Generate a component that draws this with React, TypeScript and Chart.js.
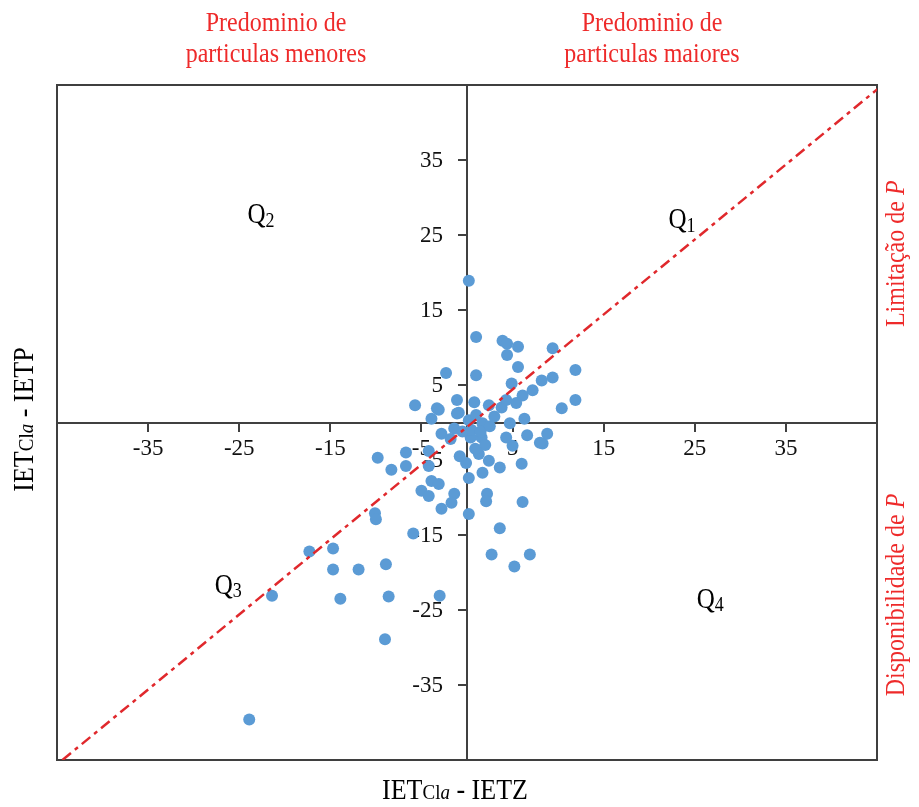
import React, { useEffect, useRef } from 'react';
import { Chart, registerables } from 'chart.js';

Chart.register(...registerables);

// IETCla - IETZ (x) and IETCla - IETP (y)
const xValues = [
  0.2, 1.0, 3.9, 4.4, 5.6, 4.4, 5.6, 9.4, 11.9, 9.4,
  8.2, 7.2, 6.1, 5.4, 4.9, 1.0, -2.3, -5.7, -3.1, -3.9,
  -1.1, 0.8, 2.4, 3.8, 4.3, 11.9, 10.4, 6.3, -0.9, 0.2,
  1.7, 4.7, -2.8, -6.7, -8.3, -6.7, -4.2, -0.1, 0.4, 1.6,
  1.3, 2.4, 3.6, 6.0, 6.6, 8.3, 8.8, 1.7, 0.2, -3.9,
  -3.1, -5.0, -4.2, -1.4, -1.7, -2.8, 0.2, 2.2, 2.1, 6.1,
  3.6, -5.9, 2.7, 6.9, 5.2, -9.8, -10.1, -10.0, -17.3, -14.7,
  -14.7, -11.9, -8.9, -21.4, -13.9, -8.6, -3.0, -9.0, -23.9, 8.0,
  5.0, 4.3, -1.4, -1.1, -3.3, -4.2, 0.5, 1.5, 2.5, -0.5,
  1.0, 3.0, 2.0, -1.8, 0.9, -0.8,
];
const yValues = [
  18.9, 11.4, 10.9, 10.5, 10.1, 9.0, 7.4, 9.9, 7.0, 6.0,
  5.6, 4.3, 3.6, 2.6, 5.2, 6.3, 6.6, 2.3, 1.7, 0.5,
  3.0, 2.7, 2.3, 2.0, 3.0, 3.0, 1.9, 0.5, 1.3, 0.3,
  -0.1, -0.1, -1.5, -4.0, -6.3, -5.8, -5.8, -5.4, -2.0, -2.0,
  -4.2, -5.1, -6.0, -5.5, -1.7, -2.8, -1.5, -6.7, -7.4, -7.8,
  -8.2, -9.1, -9.8, -9.5, -10.7, -11.5, -12.2, -9.5, -10.5, -10.6,
  -14.1, -14.8, -17.6, -17.6, -19.2, -4.7, -12.1, -12.9, -17.2, -16.8,
  -19.6, -19.6, -18.9, -23.1, -23.5, -23.2, -23.1, -28.9, -39.6, -2.7,
  -3.1, -2.0, -0.8, 1.2, 1.9, -3.8, -1.0, -1.2, -0.5, -1.2,
  1.0, 0.8, -3.0, -2.2, -3.5, -4.5,
];

const tickValues = [-35, -25, -15, -5, 5, 15, 25, 35];
const axisMin = -45;
const axisMax = 45;
const diagonalX = [-44.4, 45.4];
const diagonalY = [-45, 44.8];

const quadNames = ['Q', 'Q', 'Q', 'Q'];
const quadSubs = ['1', '2', '3', '4'];
const quadX = [23.6, -22.6, -26.2, 26.7];
const quadY = [27.1, 27.8, -21.6, -23.5];

const topLabelLines = [
  ['Predominio de', 'particulas menores'],
  ['Predominio de', 'particulas maiores'],
];
const rightLabels = ['Limitação de ', 'Disponibilidade de '];

const SERIF = '"Liberation Serif", "Times New Roman", serif';
const RED = '#EE2A2A';
const STRETCH = 1.15;
const TICK_FONT = `23px ${SERIF}`;

type Part = { t: string; font: string; dy?: number };

function drawParts(ctx: CanvasRenderingContext2D, parts: Part[], cx: number, cy: number, color: string) {
  let total = 0;
  parts.forEach((p) => {
    ctx.font = p.font;
    total += ctx.measureText(p.t).width;
  });
  let x = cx - total / 2;
  ctx.fillStyle = color;
  ctx.textBaseline = 'alphabetic';
  ctx.textAlign = 'left';
  parts.forEach((p) => {
    ctx.font = p.font;
    ctx.fillText(p.t, x, cy + (p.dy || 0));
    x += ctx.measureText(p.t).width;
  });
}

const decorPlugin = {
  id: 'decor',
  beforeDatasetsDraw(chart: any) {
    const ctx = chart.ctx as CanvasRenderingContext2D;
    const { left, right, top, bottom } = chart.chartArea;
    const xs = chart.scales.x;
    const ys = chart.scales.y;
    ctx.save();
    ctx.strokeStyle = '#3f3f3f';
    ctx.lineWidth = 2;
    ctx.strokeRect(left, top, right - left, bottom - top);
    // y tick labels, left of the vertical axis
    const ax = xs.getPixelForValue(0);
    ctx.fillStyle = '#111';
    ctx.font = TICK_FONT;
    ctx.textAlign = 'right';
    ctx.textBaseline = 'middle';
    tickValues.forEach((v) => {
      ctx.fillText(String(v), ax - 24, ys.getPixelForValue(v) + 1);
    });
    ctx.restore();
  },
  afterDraw(chart: any) {
    const ctx = chart.ctx as CanvasRenderingContext2D;
    const xs = chart.scales.x;
    const ys = chart.scales.y;
    ctx.save();
    // quadrant labels
    for (let i = 0; i < quadNames.length; i++) {
      const px = xs.getPixelForValue(quadX[i]);
      const py = ys.getPixelForValue(quadY[i]);
      ctx.save();
      ctx.translate(px, py);
      ctx.scale(1, STRETCH);
      drawParts(ctx, [
        { t: quadNames[i], font: `25px ${SERIF}` },
        { t: quadSubs[i], font: `18px ${SERIF}`, dy: 3 },
      ], 0, 8, '#000');
      ctx.restore();
    }
    // top red labels
    const topCenters = [
      (chart.chartArea.left + xs.getPixelForValue(0)) / 2 + 14,
      (xs.getPixelForValue(0) + chart.chartArea.right) / 2 - 20,
    ];
    topLabelLines.forEach((lines, i) => {
      lines.forEach((line, j) => {
        ctx.save();
        ctx.translate(topCenters[i], 31 + j * 31);
        ctx.scale(1, STRETCH);
        drawParts(ctx, [{ t: line, font: `24px ${SERIF}` }], 0, 0, RED);
        ctx.restore();
      });
    });
    // right rotated red labels
    const rx = 904;
    const rCenters = [ys.getPixelForValue(22.5), ys.getPixelForValue(-23)];
    rightLabels.forEach((lab, i) => {
      ctx.save();
      ctx.translate(rx, rCenters[i]);
      ctx.rotate(-Math.PI / 2);
      ctx.scale(1, STRETCH);
      drawParts(ctx, [
        { t: lab, font: `24px ${SERIF}` },
        { t: 'P', font: `italic 24px ${SERIF}` },
      ], 0, 0, RED);
      ctx.restore();
    });
    // axis titles
    const titleParts = (last: string): Part[] => [
      { t: 'IET', font: `26px ${SERIF}` },
      { t: 'Cl', font: `19px ${SERIF}` },
      { t: 'a', font: `italic 19px ${SERIF}` },
      { t: ' - IET' + last, font: `26px ${SERIF}` },
    ];
    ctx.save();
    ctx.translate(xs.getPixelForValue(0) - 12, 799);
    ctx.scale(1, STRETCH);
    drawParts(ctx, titleParts('Z'), 0, 0, '#000');
    ctx.restore();
    ctx.save();
    ctx.translate(33, ys.getPixelForValue(0) - 3);
    ctx.rotate(-Math.PI / 2);
    ctx.scale(1, STRETCH);
    drawParts(ctx, titleParts('P'), 0, 0, '#000');
    ctx.restore();
    ctx.restore();
  },
};

export default function App() {
  const canvasRef = useRef<HTMLCanvasElement | null>(null);

  useEffect(() => {
    document.body.style.margin = '0';
    const canvas = canvasRef.current;
    if (!canvas) return;
    const points = xValues.map((x, i) => ({ x, y: yValues[i] }));
    const diagonal = diagonalX.map((x, i) => ({ x, y: diagonalY[i] }));
    const setTicks = (scale: any) => {
      scale.ticks = tickValues.map((v) => ({ value: v }));
    };
    const chart = new Chart(canvas, {
      type: 'scatter',
      data: {
        datasets: [
          {
            type: 'line',
            label: 'diagonal',
            data: diagonal,
            borderColor: '#E0282C',
            borderWidth: 2.5,
            borderDash: [11, 5, 4, 5],
            pointRadius: 0,
            fill: false,
            order: 0,
          } as any,
          {
            label: 'dados',
            data: points,
            backgroundColor: '#5B9BD5',
            borderColor: '#5B9BD5',
            borderWidth: 0,
            pointRadius: 6,
            order: 1,
          },
        ],
      },
      options: {
        responsive: false,
        animation: false,
        layout: { padding: { left: 57, right: 42, top: 85, bottom: 47 } },
        plugins: {
          legend: { display: false },
          tooltip: { enabled: false },
        },
        scales: {
          x: {
            type: 'linear',
            min: axisMin,
            max: axisMax,
            position: { y: 0 } as any,
            afterBuildTicks: setTicks,
            grid: { drawOnChartArea: false, drawTicks: true, tickLength: 8, color: '#404040', lineWidth: 2 },
            border: { display: true, color: '#404040', width: 2 },
            ticks: { color: '#111', font: { family: SERIF, size: 23 }, padding: 5, maxRotation: 0 },
          },
          y: {
            type: 'linear',
            min: axisMin,
            max: axisMax,
            position: { x: 0 } as any,
            afterBuildTicks: setTicks,
            grid: { drawOnChartArea: false, drawTicks: true, tickLength: 8, color: '#404040', lineWidth: 2 },
            border: { display: true, color: '#404040', width: 2 },
            ticks: { display: false },
          },
        },
      },
      plugins: [decorPlugin],
    });
    return () => chart.destroy();
  }, []);

  return (
    <div style={{ position: 'absolute', left: 0, top: 0, width: 919, height: 807, background: '#fff' }}>
      <canvas ref={canvasRef} width={919} height={807} style={{ width: 919, height: 807 }} />
    </div>
  );
}
